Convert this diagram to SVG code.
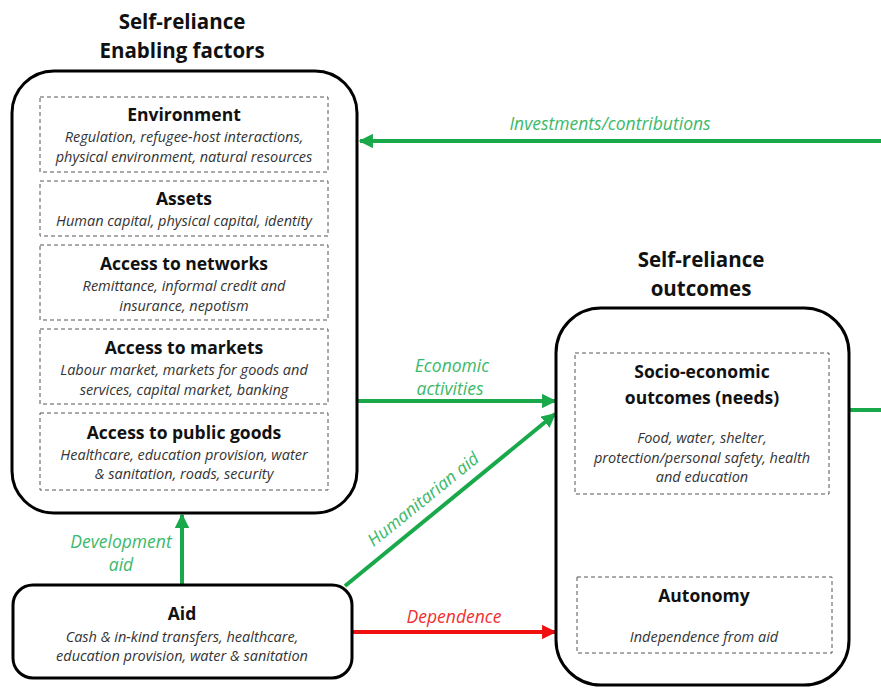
<svg xmlns="http://www.w3.org/2000/svg" width="881" height="688" viewBox="0 0 881 688">
<defs>
<style>
.big{fill:#fff;stroke:#000;stroke-width:3}
.dash{fill:#fff;stroke:#555;stroke-width:1;stroke-dasharray:4 3}
.title{font-family:"Open Sans",Lato,sans-serif;font-weight:bold;font-size:20.5px;fill:#111;text-anchor:middle}
.h{font-family:"Open Sans",Lato,sans-serif;font-weight:bold;font-size:17.5px;fill:#111;text-anchor:middle}
.d{font-family:"Open Sans",Lato,sans-serif;font-style:italic;font-size:14.5px;fill:#333;text-anchor:middle}
.g{stroke:#19a94a;stroke-width:4;fill:none}
.r{stroke:#f01010;stroke-width:4;fill:none}
.gl{font-family:"Open Sans",Lato,sans-serif;font-style:italic;font-size:17.5px;fill:#3cb96a;text-anchor:middle}
.rl{font-family:"Open Sans",Lato,sans-serif;font-style:italic;font-size:17.5px;fill:#f03030;text-anchor:middle}
</style>
<marker id="ag" viewBox="0 0 10 10" refX="9" refY="5" markerWidth="3.6" markerHeight="3.6" orient="auto" markerUnits="strokeWidth"><path d="M0,0 L10,5 L0,10 z" fill="#19a94a"/></marker>
<marker id="ar" viewBox="0 0 10 10" refX="9" refY="5" markerWidth="3.6" markerHeight="3.6" orient="auto" markerUnits="strokeWidth"><path d="M0,0 L10,5 L0,10 z" fill="#f01010"/></marker>
</defs>
<rect width="881" height="688" fill="#fff"/>

<g id="connectors">
<path class="g" d="M881,141 L360,141" marker-end="url(#ag)"/>
<path class="g" d="M849,410 L881,410"/>
<path class="g" d="M358,401 L555,401" marker-end="url(#ag)"/>
<path class="g" d="M345,586 L555,414" marker-end="url(#ag)"/>
<path class="g" d="M182,585 L182,515" marker-end="url(#ag)"/>
<path class="r" d="M352,632 L555,632" marker-end="url(#ar)"/>
<text class="gl" x="610" y="130">Investments/contributions</text>
<text class="gl" x="452" y="372">Economic</text>
<text class="gl" x="450" y="395">activities</text>
<text class="gl" x="121" y="548">Development</text>
<text class="gl" x="121" y="571">aid</text>
<text class="gl" transform="translate(427,504) rotate(-39)">Humanitarian aid</text>
<text class="rl" x="454" y="623">Dependence</text>
</g>

<g id="enabling">
<text class="title" x="182" y="29">Self-reliance</text>
<text class="title" x="182" y="58">Enabling factors</text>
<rect class="big" x="12" y="71" width="345" height="442" rx="42"/>
</g>
<g id="environment">
<rect class="dash" x="40" y="97" width="288" height="75"/>
<text class="h" x="184" y="121">Environment</text>
<text class="d" x="184" y="142">Regulation, refugee-host interactions,</text>
<text class="d" x="184" y="162">physical environment, natural resources</text>
</g>
<g id="assets">
<rect class="dash" x="40" y="181" width="288" height="55"/>
<text class="h" x="184" y="205">Assets</text>
<text class="d" x="184" y="226">Human capital, physical capital, identity</text>
</g>
<g id="networks">
<rect class="dash" x="40" y="245" width="288" height="75"/>
<text class="h" x="184" y="270">Access to networks</text>
<text class="d" x="184" y="291">Remittance, informal credit and</text>
<text class="d" x="184" y="311">insurance, nepotism</text>
</g>
<g id="markets">
<rect class="dash" x="40" y="329" width="288" height="75"/>
<text class="h" x="184" y="354">Access to markets</text>
<text class="d" x="184" y="375">Labour market, markets for goods and</text>
<text class="d" x="184" y="395">services, capital market, banking</text>
</g>
<g id="public">
<rect class="dash" x="40" y="413" width="288" height="77"/>
<text class="h" x="184" y="439">Access to public goods</text>
<text class="d" x="184" y="460">Healthcare, education provision, water</text>
<text class="d" x="184" y="479">&amp; sanitation, roads, security</text>
</g>

<g id="outcomes">
<text class="title" x="701" y="267">Self-reliance</text>
<text class="title" x="701" y="296">outcomes</text>
<rect class="big" x="556" y="308" width="293" height="377" rx="45"/>
</g>
<g id="socio">
<rect class="dash" x="575" y="353" width="254" height="141"/>
<text class="h" x="702" y="378">Socio-economic</text>
<text class="h" x="702" y="404">outcomes (needs)</text>
<text class="d" x="702" y="443">Food, water, shelter,</text>
<text class="d" x="702" y="463">protection/personal safety, health</text>
<text class="d" x="702" y="482">and education</text>
</g>
<g id="autonomy">
<rect class="dash" x="577" y="577" width="255" height="76"/>
<text class="h" x="704" y="602">Autonomy</text>
<text class="d" x="704" y="642">Independence from aid</text>
</g>

<g id="aid">
<rect class="big" x="13" y="585" width="339" height="93" rx="20"/>
<text class="h" x="182" y="620">Aid</text>
<text class="d" x="182" y="642">Cash &amp; in-kind transfers, healthcare,</text>
<text class="d" x="182" y="661">education provision, water &amp; sanitation</text>
</g>
</svg>
